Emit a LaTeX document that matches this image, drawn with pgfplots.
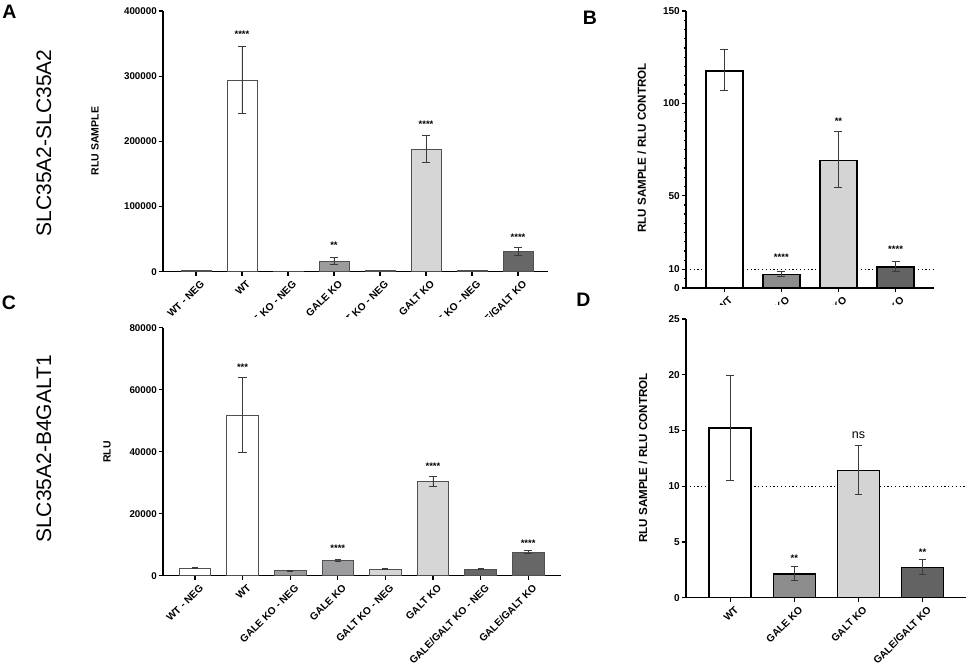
\documentclass[border=0pt]{standalone}
\usepackage{pgfplots}
\pgfplotsset{compat=1.18}
\usepackage{fontspec}
\setmainfont{Liberation Sans}
\definecolor{galeA}{HTML}{9C9C9F}
\definecolor{galtA}{HTML}{D6D6D6}
\definecolor{dkA}{HTML}{676767}
\definecolor{galeB}{HTML}{8C8C8C}
\definecolor{galtB}{HTML}{D4D4D4}
\definecolor{dkB}{HTML}{636363}
\definecolor{edgeA}{HTML}{505050}
\definecolor{errc}{HTML}{3A3A3A}
\pgfplotsset{
  gp/.style={
    scale only axis, anchor=south west, clip=false,
    scaled y ticks=false,
    axis x line*=bottom, axis y line*=left,
    axis line style={-, line width=1.1pt, black},
    tick align=outside,
    major tick length=4.5pt, minor tick length=2.5pt,
    every tick/.style={black, line width=1.1pt},
    x tick label style={rotate=45, anchor=north east, inner sep=1pt, yshift=-4pt, xshift=1.5pt, font=\bfseries\fontsize{10.2}{11}\selectfont},
    y tick label style={inner sep=1.5pt, font=\bfseries\fontsize{9.8}{10}\selectfont},
    ymin=0,
  },
  barA/.style={ybar, bar shift=0pt, bar width=30pt, draw=edgeA, line width=0.8pt},
  barC/.style={ybar, bar shift=0pt, bar width=31.5pt, draw=edgeA, line width=0.8pt},
  barB/.style={ybar, bar shift=0pt, bar width=37pt, draw=black, line width=1.5pt},
  barD/.style={ybar, bar shift=0pt, bar width=42pt, draw=black, line width=1.5pt},
  eb/.style={error bars/y dir=both, error bars/y explicit,
    error bars/error bar style={line width=0.9pt, errc},
    error bars/error mark options={rotate=90, mark size=#1, line width=0.9pt, errc}},
  eb/.default=4.2pt,
}
\newcommand{\sig}[1]{\bfseries\fontsize{9.5}{10}\selectfont #1}
\begin{document}
\begin{tikzpicture}
\useasboundingbox (0pt,0pt) rectangle (969pt,668pt);

% ---------------- Panel A ----------------
\begin{axis}[gp, at={(163pt,396.3pt)}, width=385pt, height=260.7pt,
  xmin=-0.717, xmax=7.652, ymax=400000,
  xtick={0,...,7},
  xticklabels={WT - NEG, WT, GALE KO - NEG, GALE KO, GALT KO - NEG, GALT KO, GALE/GALT KO - NEG, GALE/GALT KO},
  ytick={0,100000,200000,300000,400000},
  yticklabels={0,100000,200000,300000,400000}]
\addplot[barA, fill=white] coordinates {(0,1500)};
\addplot[barA, fill=white, eb] coordinates {(1,294000) += (0,51000) -= (0,51000)};
\addplot[barA, fill=galeA] coordinates {(2,1000)};
\addplot[barA, fill=galeA, eb] coordinates {(3,16400) += (0,5600) -= (0,5400)};
\addplot[barA, fill=galtA] coordinates {(4,1300)};
\addplot[barA, fill=galtA, eb] coordinates {(5,187800) += (0,20900) -= (0,20600)};
\addplot[barA, fill=dkA] coordinates {(6,1300)};
\addplot[barA, fill=dkA, eb] coordinates {(7,31300) += (0,6100) -= (0,6200)};
\node[inner sep=0] at (axis cs:1,365000) {\sig{****}};
\node[inner sep=0] at (axis cs:3,41000) {\sig{**}};
\node[inner sep=0] at (axis cs:5,226600) {\sig{****}};
\node[inner sep=0] at (axis cs:7,52800) {\sig{****}};
\end{axis}

% ---------------- Panel B ----------------
\begin{axis}[gp, at={(686pt,380pt)}, width=248pt, height=277pt,
  xmin=-0.67, xmax=3.673, ymax=150,
  xtick={0,...,3},
  xticklabels={WT, GALE KO, GALT KO, GALE/GALT KO},
  ytick={0,10,50,100,150},
  yticklabels={0,10,50,100,150},
  minor ytick={0,5,...,150},
  axis line style={-, line width=1.4pt, black},
  every tick/.style={black, line width=1.3pt},
  y tick label style={inner sep=1.5pt, font=\bfseries\fontsize{10}{11}\selectfont}]
\addplot[black, line width=1pt, dash pattern=on 1.2pt off 2.6pt] coordinates {(-0.67,10) (3.673,10)};
\addplot[barB, fill=white, eb=4pt] coordinates {(0,117.5) += (0,11.5) -= (0,10.5)};
\addplot[barB, fill=galeB, eb=4pt] coordinates {(1,7.2) += (0,1.5) -= (0,0.9)};
\addplot[barB, fill=galtB, eb=4pt] coordinates {(2,69) += (0,15.5) -= (0,14.5)};
\addplot[barB, fill=dkB, eb=4pt] coordinates {(3,11.3) += (0,3.1) -= (0,2.5)};
\node[inner sep=0] at (axis cs:1,16.4) {\sig{****}};
\node[inner sep=0] at (axis cs:2,90.1) {\sig{**}};
\node[inner sep=0] at (axis cs:3,21) {\sig{****}};
\end{axis}

% cut the lower parts of the top labels
\fill[white] (0pt,0pt) rectangle (575pt,351pt);
\fill[white] (575pt,0pt) rectangle (969pt,362.5pt);

% ---------------- Panel C ----------------
\begin{axis}[gp, at={(163pt,92.3pt)}, width=397.7pt, height=248pt,
  xmin=-0.672, xmax=7.683, ymax=80000,
  xtick={0,...,7},
  xticklabels={WT - NEG, WT, GALE KO - NEG, GALE KO, GALT KO - NEG, GALT KO, GALE/GALT KO - NEG, GALE/GALT KO},
  ytick={0,20000,40000,60000,80000},
  yticklabels={0,20000,40000,60000,80000}]
\addplot[barC, fill=white, eb=3pt] coordinates {(0,2400) +- (0,200)};
\addplot[barC, fill=white, eb] coordinates {(1,51600) += (0,12400) -= (0,11900)};
\addplot[barC, fill=galeA, eb=3pt] coordinates {(2,1600) +- (0,150)};
\addplot[barC, fill=galeA, eb=3pt] coordinates {(3,5000) +- (0,300)};
\addplot[barC, fill=galtA, eb=3pt] coordinates {(4,2100) +- (0,200)};
\addplot[barC, fill=galtA, eb] coordinates {(5,30300) += (0,1800) -= (0,1600)};
\addplot[barC, fill=dkA, eb=3pt] coordinates {(6,2100) +- (0,200)};
\addplot[barC, fill=dkA, eb] coordinates {(7,7600) +- (0,500)};
\node[inner sep=0] at (axis cs:1,67200) {\sig{***}};
\node[inner sep=0] at (axis cs:3,8840) {\sig{****}};
\node[inner sep=0] at (axis cs:5,35160) {\sig{****}};
\node[inner sep=0] at (axis cs:7,10450) {\sig{****}};
\end{axis}

% ---------------- Panel D ----------------
\begin{axis}[gp, at={(686pt,70.3pt)}, width=280pt, height=278.7pt,
  xmin=-0.69, xmax=3.678, ymax=25,
  xtick={0,...,3},
  xticklabels={WT, GALE KO, GALT KO, GALE/GALT KO},
  ytick={0,5,10,15,20,25},
  yticklabels={0,5,10,15,20,25},
  axis line style={-, line width=1.4pt, black},
  every tick/.style={black, line width=1.3pt},
  y tick label style={inner sep=1.5pt, font=\bfseries\fontsize{10}{11}\selectfont}]
\addplot[black, line width=1pt, dash pattern=on 1.2pt off 2.6pt] coordinates {(-0.69,10) (3.678,10)};
\addplot[barD, fill=white, eb=3.8pt] coordinates {(0,15.2) += (0,4.75) -= (0,4.65)};
\addplot[barD, fill=galeB, eb=3.8pt] coordinates {(1,2.13) += (0,0.65) -= (0,0.54)};
\addplot[barD, fill=galtB, eb=3.8pt] coordinates {(2,11.4) += (0,2.27) -= (0,2.16)};
\addplot[barD, fill=dkB, eb=3.8pt] coordinates {(3,2.73) += (0,0.71) -= (0,0.6)};
\node[inner sep=0] at (axis cs:1,3.53) {\sig{**}};
\node[inner sep=0] at (axis cs:2,14.55) {\fontsize{12.5}{13}\selectfont ns};
\node[inner sep=0] at (axis cs:3,4.07) {\sig{**}};
\end{axis}

% ---------------- labels ----------------
\node[rotate=90, inner sep=0] at (95pt,527pt) {\bfseries\fontsize{10.5}{11}\selectfont RLU SAMPLE};
\node[rotate=90, inner sep=0] at (107pt,216pt) {\bfseries\fontsize{10.5}{11}\selectfont RLU};
\node[rotate=90, inner sep=0] at (641.7pt,520pt) {\bfseries\fontsize{11.6}{12}\selectfont RLU SAMPLE / RLU CONTROL};
\node[rotate=90, inner sep=0] at (643pt,210pt) {\bfseries\fontsize{11.6}{12}\selectfont RLU SAMPLE / RLU CONTROL};
\node[rotate=90, inner sep=0] at (44pt,525pt) {\fontsize{21}{22}\selectfont SLC35A2-SLC35A2};
\node[rotate=90, inner sep=0] at (44pt,219pt) {\fontsize{21}{22}\selectfont SLC35A2-B4GALT1};
\node[inner sep=0] at (9.5pt,656pt) {\bfseries\fontsize{19.5}{20}\selectfont A};
\node[inner sep=0] at (590pt,650.5pt) {\bfseries\fontsize{19.5}{20}\selectfont B};
\node[inner sep=0] at (9pt,365.5pt) {\bfseries\fontsize{19.5}{20}\selectfont C};
\node[inner sep=0] at (583.5pt,368.5pt) {\bfseries\fontsize{19.5}{20}\selectfont D};
\end{tikzpicture}
\end{document}
